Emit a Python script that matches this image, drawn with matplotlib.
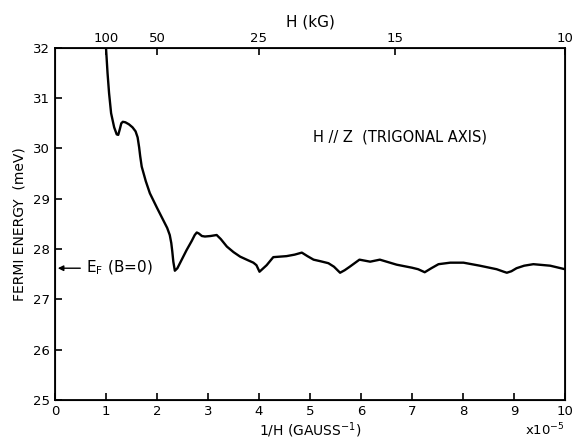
import matplotlib
matplotlib.use("Agg")
import matplotlib.pyplot as plt
import numpy as np

# traced curve: 1/H (units of 1e-5 gauss^-1) vs Fermi energy (meV)
inv_h = np.array([
    1.00, 1.03, 1.06, 1.10, 1.16, 1.21, 1.24, 1.27, 1.30, 1.33, 1.38,
    1.45, 1.52, 1.58, 1.62, 1.65, 1.67, 1.70, 1.78, 1.86, 2.00, 2.12,
    2.20, 2.25, 2.28, 2.30, 2.32, 2.35, 2.40, 2.46, 2.58, 2.68, 2.74,
    2.78, 2.82, 2.88, 2.94, 3.05, 3.17, 3.25, 3.37, 3.50, 3.63, 3.78,
    3.89, 3.95, 4.01, 4.15, 4.28, 4.54, 4.70, 4.84, 4.95, 5.07, 5.20,
    5.36, 5.47, 5.59, 5.68, 5.78, 5.97, 6.18, 6.37, 6.70, 7.00, 7.12,
    7.25, 7.38, 7.52, 7.75, 8.01, 8.33, 8.66, 8.80, 8.86, 8.95, 9.05,
    9.20, 9.38, 9.71, 10.0,
])
energy = np.array([
    32.00, 31.50, 31.10, 30.70, 30.42, 30.28, 30.27, 30.38, 30.50, 30.53, 30.52,
    30.48, 30.42, 30.34, 30.22, 30.02, 29.85, 29.64, 29.35, 29.11, 28.82, 28.58,
    28.42, 28.28, 28.12, 27.95, 27.75, 27.57, 27.62, 27.74, 27.98, 28.16, 28.28,
    28.33, 28.31, 28.26, 28.25, 28.26, 28.28, 28.20, 28.05, 27.94, 27.85, 27.78,
    27.73, 27.68, 27.55, 27.68, 27.84, 27.86, 27.89, 27.93, 27.86, 27.79, 27.76,
    27.72, 27.65, 27.53, 27.58, 27.65, 27.79, 27.75, 27.79, 27.69, 27.63, 27.60,
    27.54, 27.62, 27.70, 27.73, 27.73, 27.67, 27.60, 27.55, 27.53, 27.56, 27.62,
    27.67, 27.70, 27.67, 27.60,
])

bottom_ticks = np.arange(0, 11)
top_tick_kg = [100, 50, 25, 15, 10]
ef_zero_field = 27.62

plt.rcParams["font.family"] = "DejaVu Sans"
fig = plt.figure(figsize=(5.73, 4.43), dpi=100)
ax = fig.add_axes([0.096, 0.097, 0.890, 0.795])

ax.plot(inv_h, energy, color="black", lw=1.7, solid_joinstyle="round")
ax.set_xlim(0, 10)
ax.set_ylim(25, 32)
ax.set_xticks(bottom_ticks)
ax.set_yticks(np.arange(25, 33))
ax.tick_params(direction="in", length=5, width=1.2, labelsize=9.5,
               right=False, top=False)
for s in ax.spines.values():
    s.set_linewidth(1.3)

top = ax.twiny()
top.set_xlim(0, 10)
top.set_xticks([100.0 / h for h in top_tick_kg])
top.set_xticklabels([str(h) for h in top_tick_kg])
top.tick_params(direction="in", length=5, width=1.2, labelsize=9.5, pad=2)
top.set_xlabel("H (kG)", fontsize=11, labelpad=4)

ax.set_xlabel("1/H (GAUSS$^{-1}$)", fontsize=10, labelpad=2)
ax.set_ylabel("FERMI ENERGY  (meV)", fontsize=10, labelpad=5)
ax.text(1.0, -0.062, "x10$^{-5}$", transform=ax.transAxes, ha="right",
        va="top", fontsize=9.5)

ax.annotate("", xy=(0, ef_zero_field), xytext=(0.55, ef_zero_field),
            arrowprops=dict(arrowstyle="-|>", color="black", lw=1.0,
                            mutation_scale=8))
ax.text(0.6, ef_zero_field, "E$_\\mathregular{F}$ (B=0)", va="center",
        ha="left", fontsize=11)
ax.text(5.05, 30.23, "H // Z  (TRIGONAL AXIS)", va="center", ha="left",
        fontsize=10.5)

fig.savefig("out.png", dpi=100)
